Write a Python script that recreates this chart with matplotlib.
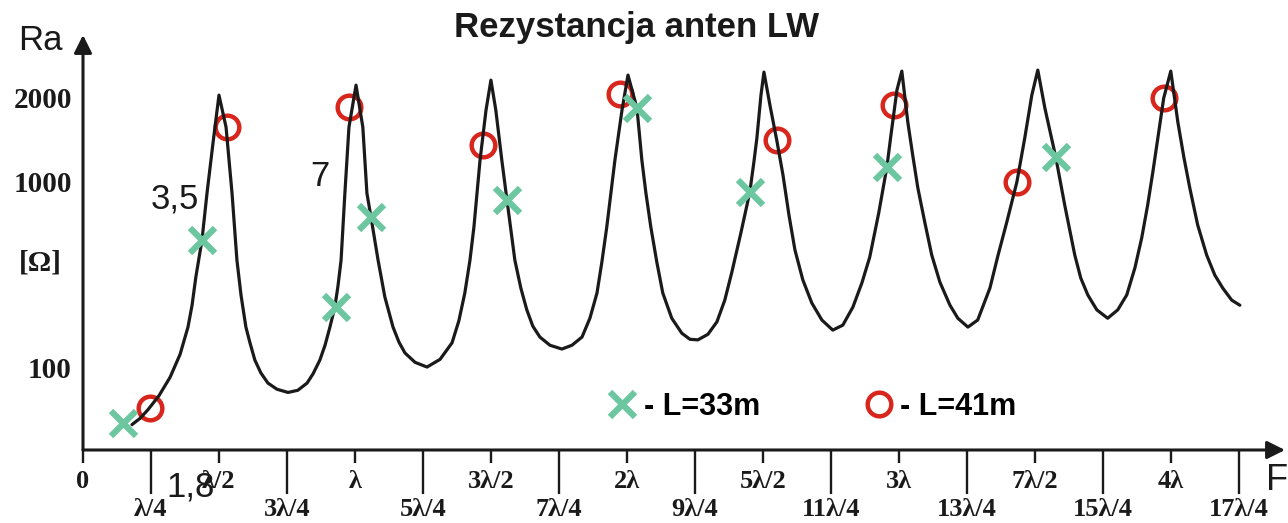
import numpy as np
import matplotlib.pyplot as plt
from matplotlib.ticker import NullLocator

# Krzywa rezystancji: x w długościach fali (λ), R w omach (odczyt z wykresu)
krzywa_x = [0.180, 0.210, 0.239, 0.279, 0.320, 0.357, 0.386, 0.401, 0.415, 0.4375,
            0.456, 0.478, 0.500, 0.526, 0.548, 0.566, 0.581, 0.599, 0.614, 0.632,
            0.654, 0.680, 0.713, 0.754, 0.790, 0.824, 0.846, 0.871, 0.890, 0.908,
            0.926, 0.9375, 0.949, 0.963, 0.978, 1.004, 1.029, 1.044, 1.059, 1.085,
            1.110, 1.140, 1.162, 1.184, 1.221, 1.265, 1.313, 1.357, 1.382, 1.404,
            1.423, 1.4375, 1.460, 1.482, 1.500, 1.518, 1.540, 1.559, 1.588, 1.610,
            1.632, 1.654, 1.680, 1.717, 1.761, 1.798, 1.835, 1.864, 1.890, 1.908,
            1.926, 1.941, 1.956, 1.982, 2.004, 2.037, 2.055, 2.070, 2.088, 2.110,
            2.132, 2.165, 2.202, 2.232, 2.261, 2.298, 2.331, 2.360, 2.386, 2.419,
            2.452, 2.467, 2.478, 2.493, 2.504, 2.526, 2.551, 2.574, 2.596, 2.618,
            2.647, 2.680, 2.717, 2.757, 2.794, 2.831, 2.864, 2.893, 2.926, 2.956,
            2.971, 2.993, 3.011, 3.033, 3.051, 3.070, 3.096, 3.121, 3.151, 3.188,
            3.217, 3.254, 3.290, 3.335, 3.364, 3.397, 3.434, 3.463, 3.489, 3.511,
            3.537, 3.577, 3.610, 3.647, 3.669, 3.695, 3.728, 3.768, 3.805, 3.838,
            3.868, 3.893, 3.915, 3.934, 3.974, 4.000, 4.026, 4.048, 4.070, 4.099,
            4.132, 4.162, 4.191, 4.224, 4.254]
krzywa_r = [49, 53, 59, 70, 88, 117, 164, 215, 305, 482,
            861, 1368, 2033, 1561, 861, 376, 244, 164, 135, 109,
            93, 82, 76, 73, 75, 82, 92, 109, 131, 164,
            210, 272, 376, 861, 1561, 2208, 1561, 861, 640, 376,
            238, 164, 136, 119, 106, 100, 110, 135, 177, 250,
            376, 566, 1190, 1797, 2301, 1797, 1190, 791, 376, 266,
            203, 166, 145, 131, 125, 131, 145, 183, 250, 367,
            566, 861, 1190, 1797, 2399, 1827, 1190, 861, 566, 367,
            250, 183, 152, 141, 140, 150, 175, 229, 324, 525,
            873, 1170, 1426, 2033, 2459, 1872, 1403, 1051, 656, 426,
            294, 221, 179, 158, 168, 210, 283, 390, 673, 1122,
            1462, 2119, 2479, 1627, 1239, 917, 595, 400, 286, 215,
            183, 164, 179, 266, 395, 602, 988, 1426, 2033, 2500,
            1827, 1219, 743, 400, 301, 244, 203, 183, 203, 244,
            341, 494, 743, 1077, 1984, 2479, 1627, 1219, 917, 580,
            400, 312, 266, 229, 215]

# Punkty dla anten L=33m i L=41m
x_33m = [0.147, 0.4375, 0.930, 1.059, 1.559, 2.037, 2.452, 2.956, 3.577]
r_33m = [50, 482, 210, 640, 791, 1827, 873, 1122, 1219]
x_41m = [0.246, 0.529, 0.978, 1.471, 1.974, 2.551, 2.982, 3.434, 3.974]
r_41m = [60, 1561, 1841, 1346, 2049, 1403, 1872, 988, 1984]

# Opisy osi
ticks_glowne = [0, 0.5, 1, 1.5, 2, 2.5, 3, 3.5, 4]
etykiety_glowne = ['0', 'λ/2', 'λ', '3λ/2', '2λ', '5λ/2', '3λ', '7λ/2', '4λ']
ticks_pom = [0.25, 0.75, 1.25, 1.75, 2.25, 2.75, 3.25, 3.75, 4.25]
etykiety_pom = ['λ/4', '3λ/4', '5λ/4', '7λ/4', '9λ/4', '11λ/4', '13λ/4', '15λ/4', '17λ/4']
ticks_r = [100, 1000, 2000]
etykiety_r = ['100', '1000', '2000']

CZARNY = '#1a1a1a'
ZIELONY = '#6cc69f'
CZERWONY = '#d8261d'


# Skala osi Y: logarytmiczna, powyżej 1000 rozciągnięta 1.5x (jak w oryginale)
def skala(r):
    l = np.log10(np.maximum(r, 1e-6))
    return np.where(l <= 3, l - 2, 1 + (l - 3) * 1.5)


def skala_odwr(p):
    return np.where(p <= 1, 10 ** (p + 2), 10 ** (3 + (p - 1) / 1.5))


W, H = 1288, 523


def fx(x):
    return x / W


def fy(y):
    return 1 - y / H


fig = plt.figure(figsize=(W / 100, H / 100), dpi=100)
ax = fig.add_axes([fx(83), fy(450), (1285 - 83) / W, (450 - 35) / H])
ax.set_yscale('function', functions=(skala, skala_odwr))
ax.set_xlim(0, 4.42)
ax.set_ylim(35.8, 3340)
for s in ax.spines.values():
    s.set_visible(False)

h41, = ax.plot(x_41m, r_41m, 'o', ms=17, mfc='none', mec=CZERWONY, mew=3.2,
               label='- L=41m', zorder=2, clip_on=False)
ax.plot(krzywa_x, krzywa_r, color=CZARNY, lw=2.3, zorder=3,
        solid_joinstyle='round', solid_capstyle='round')
h33, = ax.plot(x_33m, r_33m, 'x', ms=18, mec=ZIELONY, mew=4.5,
               label='- L=33m', zorder=4, clip_on=False)

# Osie ze strzałkami
strzalka = dict(arrowstyle='-|>', lw=2.2, color=CZARNY, mutation_scale=27,
                shrinkA=0, shrinkB=0)
ax.annotate('', xy=(1, 0), xytext=(0, 0), xycoords='axes fraction',
            arrowprops=strzalka, annotation_clip=False)
ax.annotate('', xy=(0, 1), xytext=(0, 0), xycoords='axes fraction',
            arrowprops=strzalka, annotation_clip=False)

serif = dict(family='Liberation Serif', weight='bold')
ax.set_xticks(ticks_glowne)
ax.set_xticklabels(etykiety_glowne, fontsize=19, color=CZARNY, **serif)
ax.set_xticks(ticks_pom, minor=True)
ax.set_xticklabels(etykiety_pom, minor=True, fontsize=19, color=CZARNY, **serif)
ax.tick_params(axis='x', which='major', length=9.5, width=1.7, pad=5, color=CZARNY)
ax.tick_params(axis='x', which='minor', length=32, width=1.7, pad=2.5, color=CZARNY)

ax.set_yticks(ticks_r)
ax.set_yticklabels(etykiety_r, fontsize=21, color=CZARNY, **serif)
ax.yaxis.set_minor_locator(NullLocator())
ax.tick_params(axis='y', length=0, pad=8)

# Teksty
sans = dict(family='Liberation Sans', color=CZARNY)
fig.text(fx(637), fy(28), 'Rezystancja anten LW', ha='center', va='center',
         fontsize=25, fontweight='bold', **sans)
fig.text(fx(40), fy(40), 'Ra', ha='center', va='center', fontsize=25, **sans)
fig.text(fx(1266), fy(481), 'F', ha='left', va='center', fontsize=26, **sans)
fig.text(fx(40), fy(263), '[Ω]', ha='center', va='center', fontsize=21, color=CZARNY, **serif)
fig.text(fx(175), fy(199), '3,5', ha='center', va='center', fontsize=25, **sans)
fig.text(fx(320), fy(176), '7', ha='center', va='center', fontsize=25, **sans)
fig.text(fx(191), fy(487), '1,8', ha='center', va='center', fontsize=25, **sans)

ax.legend(handles=[h33, h41], loc='center left', bbox_to_anchor=(fx(607), fy(407)),
          bbox_transform=fig.transFigure, ncol=2, frameon=False,
          prop=dict(family='Liberation Sans', weight='bold', size=22),
          handlelength=1.0, handletextpad=0.2, columnspacing=3.4,
          borderpad=0, borderaxespad=0)

fig.savefig('out.png', dpi=100)
